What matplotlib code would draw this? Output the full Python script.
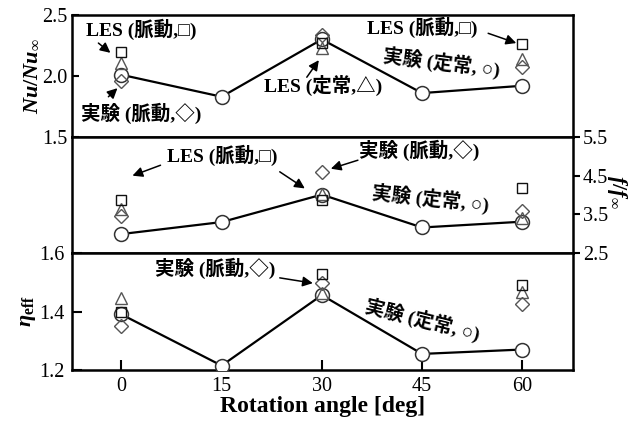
import matplotlib
matplotlib.use("Agg")
import matplotlib.pyplot as plt

plt.rcParams["font.family"] = ["Liberation Serif", "Noto Sans CJK JP"]
plt.rcParams["mathtext.fontset"] = "custom"
plt.rcParams["mathtext.rm"] = "Liberation Serif:bold"
plt.rcParams["mathtext.it"] = "Liberation Serif:italic:bold"
plt.rcParams["mathtext.bf"] = "Liberation Serif:bold"

# Rotation angles [deg]
angles = [0, 15, 30, 45, 60]

# Nu/Nu_inf
nu_exp_steady = [2.01, 1.83, 2.30, 1.86, 1.92]
nu_exp_pulse = [1.96, None, 2.34, None, 2.07]
nu_les_pulse = [2.20, None, 2.27, None, 2.26]
nu_les_steady = [2.11, None, 2.23, None, 2.14]

# f/f_inf
f_exp_steady = [2.99, 3.30, 4.01, 3.16, 3.31]
f_exp_pulse = [3.46, None, 4.60, None, 3.58]
f_les_pulse = [3.88, None, 3.87, None, 4.18]
f_les_steady = [3.63, None, 4.02, None, 3.40]

# eta_eff
eta_exp_steady = [1.39, 1.215, 1.456, 1.255, 1.27]
eta_exp_pulse = [1.35, None, 1.497, None, 1.425]
eta_les_pulse = [1.40, None, 1.528, None, 1.49]
eta_les_steady = [1.445, None, 1.462, None, 1.468]

nu_ticks = [1.5, 2.0, 2.5]
f_ticks = [2.5, 3.5, 4.5, 5.5]
eta_ticks = [1.2, 1.4, 1.6]

W, H = 630, 425
fig = plt.figure(figsize=(W / 100, H / 100), dpi=100)

left, right = 72 / W, 573 / W


def box(top_px, bot_px):
    return [left, 1 - bot_px / H, right - left, (bot_px - top_px) / H]


ax1 = fig.add_axes(box(15, 137))
ax2 = fig.add_axes(box(137, 253))
ax3 = fig.add_axes(box(253, 370))

text_kw = dict(fontsize=14, fontweight="bold")
arrow_kw = dict(arrowstyle="-|>", color="black", lw=1.1, mutation_scale=15,
                shrinkA=0, shrinkB=0)


def pairs(xs, ys):
    pts = [(x, y) for x, y in zip(xs, ys) if y is not None]
    return [p[0] for p in pts], [p[1] for p in pts]


def draw_series(ax, steady, pulse, les_p, les_s):
    ax.plot(angles, steady, color="black", lw=1.6, zorder=2)
    ax.plot(angles, steady, ls="none", marker="o", ms=10, mfc="white",
            mec="#333333", mew=1.1, zorder=3)
    x, y = pairs(angles, les_s)
    ax.plot(x, y, ls="none", marker="^", ms=9, mfc="none", mec="#555555",
            mew=1.0, zorder=4)
    x, y = pairs(angles, pulse)
    ax.plot(x, y, ls="none", marker="D", ms=7, mfc="none", mec="#555555",
            mew=1.0, zorder=4)
    x, y = pairs(angles, les_p)
    ax.plot(x, y, ls="none", marker="s", ms=7, mfc="none", mec="#111111",
            mew=1.0, zorder=5)


for ax in (ax1, ax2, ax3):
    ax.set_xlim(-7.4, 67.6)
    for s in ax.spines.values():
        s.set_linewidth(1.8)

draw_series(ax1, nu_exp_steady, nu_exp_pulse, nu_les_pulse, nu_les_steady)
draw_series(ax2, f_exp_steady, f_exp_pulse, f_les_pulse, f_les_steady)
draw_series(ax3, eta_exp_steady, eta_exp_pulse, eta_les_pulse, eta_les_steady)

# top panel
ax1.set_ylim(1.5, 2.5)
ax1.set_yticks(nu_ticks)
ax1.set_yticklabels([f"{t:.1f}" for t in nu_ticks])
ax1.tick_params(axis="y", direction="in", length=5, width=1.5, labelsize=14.5, pad=3)
ax1.tick_params(axis="x", bottom=False, labelbottom=False)
ax1.set_ylabel(r"$Nu/Nu_{\infty}$", fontsize=16, labelpad=1)

# middle panel (right axis)
ax2.set_ylim(2.5, 5.5)
ax2.yaxis.tick_right()
ax2.set_yticks(f_ticks)
ax2.set_yticklabels([f"{t:.1f}" for t in f_ticks])
ax2.tick_params(axis="y", direction="out", length=5, width=1.5, labelsize=14.5, pad=2)
ax2.tick_params(axis="x", bottom=False, labelbottom=False)
fig.text(617 / W, 1 - 192 / H, r"$f/f_{\infty}$", fontsize=16, rotation=270,
         ha="center", va="center")

# bottom panel
ax3.set_ylim(1.2, 1.6)
ax3.set_yticks(eta_ticks)
ax3.set_yticklabels([f"{t:.1f}" for t in eta_ticks])
ax3.set_xticks(angles)
ax3.set_xticklabels([str(a) for a in angles])
ax3.tick_params(axis="both", direction="in", length=7, width=1.5, labelsize=14.5, pad=5)
ax3.set_ylabel(r"$\eta_{\mathrm{eff}}$", fontsize=16, labelpad=1)
ax3.set_xlabel("Rotation angle [deg]", fontsize=17, fontweight="bold", labelpad=0)

# annotations, top panel
ax1.annotate("", xy=(-1.65, 2.19), xytext=(-3.45, 2.27), arrowprops=arrow_kw)
ax1.text(3.0, 2.385, "LES (脈動,□)", ha="center", va="center", **text_kw)
ax1.annotate("", xy=(-0.6, 1.90), xytext=(-1.95, 1.83), arrowprops=arrow_kw)
ax1.text(3.0, 1.69, "実験 (脈動,◇)", ha="center", va="center", **text_kw)
ax1.annotate("", xy=(29.55, 2.13), xytext=(27.75, 1.99), arrowprops=arrow_kw)
ax1.text(30.15, 1.92, "LES (定常,△)", ha="center", va="center", **text_kw)
ax1.annotate("", xy=(59.1, 2.27), xytext=(54.9, 2.35), arrowprops=arrow_kw)
ax1.text(45.0, 2.40, "LES (脈動,□)", ha="center", va="center", **text_kw)
ax1.text(48.0, 2.11, "実験 (定常, ○)", ha="center", va="center",
         rotation=-7, **text_kw)

# annotations, middle panel
ax2.text(15.15, 5.03, "LES (脈動,□)", ha="center", va="center", **text_kw)
ax2.annotate("", xy=(1.65, 4.50), xytext=(5.85, 4.77), arrowprops=arrow_kw)
ax2.annotate("", xy=(27.45, 4.17), xytext=(23.7, 4.60), arrowprops=arrow_kw)
ax2.text(44.55, 5.16, "実験 (脈動,◇)", ha="center", va="center", **text_kw)
ax2.annotate("", xy=(31.35, 4.68), xytext=(35.4, 4.90), arrowprops=arrow_kw)
ax2.text(46.2, 3.91, "実験 (定常, ○)", ha="center", va="center",
         rotation=-6, **text_kw)

# annotations, bottom panel
ax3.text(14.1, 1.549, "実験 (脈動,◇)", ha="center", va="center", **text_kw)
ax3.annotate("", xy=(28.65, 1.497), xytext=(23.7, 1.515), arrowprops=arrow_kw)
ax3.text(45.15, 1.371, "実験 (定常, ○)", ha="center", va="center",
         rotation=-14, **text_kw)

fig.savefig("out.png", dpi=100)
